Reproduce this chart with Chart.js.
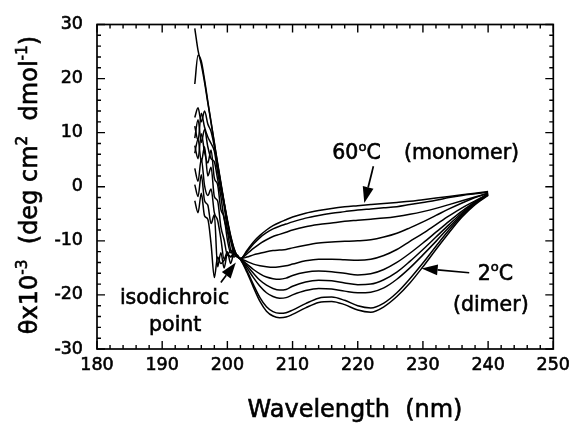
<!DOCTYPE html>
<html>
<head>
<meta charset="utf-8">
<script src="https://cdn.jsdelivr.net/npm/chart.js@4.4.1/dist/chart.umd.min.js"></script>
<style>
  html, body { margin: 0; padding: 0; background: #fff; }
  canvas { display: block; }
</style>
</head>
<body>
<canvas id="cd" width="576" height="426"></canvas>
<script>
// Wavelength grid (nm): 0.5 nm steps through the noisy far-UV region, coarser above
const wavelength = [195, 195.5, 196, 196.5, 197, 197.5, 198, 198.5, 199, 199.5, 200, 200.5, 201, 201.5, 202,
  203, 204, 205, 206, 207, 208, 209, 210,
  212, 214, 216, 218, 220, 222, 224, 226, 228, 230, 232, 234, 236, 238, 240];

// Mean residue ellipticity (x10^-3 deg cm2 dmol-1), from 60 C (monomer) down to 2 C (dimer)
const spectrum1 = [-2.6, -4.8, -1.2, -5.4, -6.0, -10.6, -16.8, -13.0, -14.2, -13.6, -12.6, -12.9, -12.4, -12.8, -13.3,
  -11.8, -10.2, -9.0, -8.0, -7.2, -6.6, -6.1, -5.6,
  -4.9, -4.4, -4.0, -3.7, -3.5, -3.3, -3.1, -2.9, -2.7, -2.4, -2.1, -1.8, -1.5, -1.2, -0.9];
const spectrum2 = [0.4, -1.8, 2.2, -2.6, -3.4, -6.8, -5.2, -14.8, -12.2, -15.0, -12.4, -13.0, -12.5, -12.9, -13.3,
  -12.0, -10.6, -9.4, -8.5, -7.8, -7.3, -6.9, -6.5,
  -5.8, -5.3, -4.9, -4.6, -4.3, -4.1, -3.9, -3.7, -3.3, -2.9, -2.5, -2.0, -1.6, -1.3, -1.0];
const spectrum3 = [3.4, 1.0, 5.2, 0.2, -1.6, -0.4, -4.8, -6.2, -9.6, -13.4, -12.0, -14.2, -12.4, -12.7, -13.3,
  -12.4, -11.4, -10.5, -9.8, -9.2, -8.8, -8.4, -8.0,
  -7.4, -7.0, -6.7, -6.4, -6.2, -6.0, -5.8, -5.5, -5.1, -4.6, -4.0, -3.3, -2.6, -1.9, -1.2];
const spectrum4 = [6.2, 8.8, 4.6, 7.4, 2.0, 3.6, -1.8, -2.6, -7.4, -9.8, -12.6, -11.8, -13.0, -12.6, -13.3,
  -13.0, -12.6, -12.3, -12.0, -11.8, -11.7, -11.6, -11.3,
  -10.8, -10.4, -10.2, -10.1, -10.0, -9.8, -9.3, -8.6, -7.6, -6.5, -5.3, -4.1, -3.0, -2.0, -1.2];
const spectrum5 = [7.6, 5.2, 9.8, 6.4, 4.4, 6.8, 1.6, 0.4, -4.2, -5.6, -9.8, -12.2, -11.8, -12.9, -13.3,
  -13.8, -14.3, -14.6, -14.8, -14.9, -14.8, -14.6, -14.3,
  -13.7, -13.4, -13.4, -13.5, -13.6, -13.4, -12.7, -11.6, -10.1, -8.6, -7.0, -5.4, -3.9, -2.6, -1.3];
const spectrum6 = [9.0, 12.4, 8.2, 10.6, 7.4, 5.2, 4.6, 1.4, -1.8, -6.0, -8.2, -11.6, -12.2, -13.0, -13.3,
  -14.3, -15.3, -16.1, -16.7, -17.0, -17.1, -16.9, -16.4,
  -15.8, -15.6, -15.7, -16.0, -16.3, -16.1, -15.3, -14.0, -12.3, -10.4, -8.4, -6.4, -4.5, -2.8, -1.4];
const spectrum7 = [11.2, 8.6, 13.6, 11.0, 9.2, 8.0, 6.6, 2.8, -0.6, -3.6, -7.8, -10.0, -12.4, -12.9, -13.3,
  -14.6, -16.0, -17.3, -18.2, -18.8, -19.1, -19.0, -18.4,
  -17.6, -17.3, -17.4, -17.8, -18.1, -18.0, -17.2, -15.8, -13.8, -11.6, -9.3, -7.0, -4.8, -2.9, -1.4];
const spectrum8 = [12.8, 14.6, 12.0, 14.0, 11.6, 10.2, 7.4, 4.0, 0.4, -3.0, -6.4, -9.4, -11.6, -12.9, -13.3,
  -15.0, -16.8, -18.4, -19.6, -20.3, -20.6, -20.5, -20.0,
  -19.2, -18.8, -18.9, -19.3, -19.6, -19.5, -18.7, -17.1, -15.0, -12.6, -10.1, -7.5, -5.1, -3.0, -1.5];
const spectrum9 = [19.0, 24.3, 23.2, 19.8, 15.8, 12.0, 8.2, 4.4, 0.8, -2.8, -6.1, -9.0, -11.3, -12.8, -13.4,
  -15.5, -18.1, -20.5, -22.2, -23.1, -23.4, -23.3, -22.8,
  -21.6, -20.6, -20.4, -21.0, -22.0, -22.4, -21.5, -19.6, -17.0, -14.1, -11.0, -8.0, -5.3, -3.1, -1.5];
const spectrum10 = [29.3, 25.2, 22.6, 19.3, 15.5, 11.8, 8.0, 4.2, 0.6, -3.0, -6.3, -9.2, -11.4, -12.8, -13.4,
  -15.8, -18.6, -21.2, -23.0, -23.9, -24.2, -24.1, -23.6,
  -22.4, -21.4, -21.2, -21.8, -22.8, -23.2, -22.2, -20.3, -17.8, -14.8, -11.6, -8.5, -5.6, -3.3, -1.6];

const spectra = [spectrum1, spectrum2, spectrum3, spectrum4, spectrum5,
                 spectrum6, spectrum7, spectrum8, spectrum9, spectrum10];

// Axis ranges and tick spacing
const xRange = [180, 250], xMajor = 10, xMinor = 2;
const yRange = [-30, 30], yMajor = 10, yMinor = 2;

const FONT = '"DejaVu Sans", Verdana, sans-serif';
const INK = '#000';

// Draw a run of text pieces, some of them superscripts
function richWidth(ctx, parts, size) {
  let w = 0;
  for (const p of parts) {
    ctx.font = (p.sup ? size * 0.64 : size) + 'px ' + FONT;
    w += ctx.measureText(p.t).width;
  }
  return w;
}
function drawRich(ctx, parts, x, y, size, align) {
  const w = richWidth(ctx, parts, size);
  let cx = align === 'center' ? x - w / 2 : x;
  ctx.textAlign = 'left';
  ctx.textBaseline = 'alphabetic';
  ctx.lineWidth = 0.6;
  for (const p of parts) {
    const s = p.sup ? size * 0.64 : size;
    ctx.font = s + 'px ' + FONT;
    const ty = p.sup ? y - size * 0.42 : y;
    ctx.strokeText(p.t, cx, ty);
    ctx.fillText(p.t, cx, ty);
    cx += ctx.measureText(p.t).width;
  }
}
function drawArrow(ctx, x0, y0, x1, y1) {
  const ang = Math.atan2(y1 - y0, x1 - x0);
  const len = 16, half = 5.5;
  const bx = x1 - len * Math.cos(ang), by = y1 - len * Math.sin(ang);
  ctx.lineWidth = 1.7;
  ctx.beginPath();
  ctx.moveTo(x0, y0);
  ctx.lineTo(bx, by);
  ctx.stroke();
  ctx.beginPath();
  ctx.moveTo(x1, y1);
  ctx.lineTo(bx + half * Math.sin(ang), by - half * Math.cos(ang));
  ctx.lineTo(bx - half * Math.sin(ang), by + half * Math.cos(ang));
  ctx.closePath();
  ctx.fill();
}

// Labels placed in data units (wavelength, ellipticity)
const notes = [
  { parts: [{ t: '60' }, { t: 'o', sup: true }, { t: 'C' }], at: [216.1, 5.1], align: 'left' },
  { parts: [{ t: '(monomer)' }], at: [227.1, 5.2], align: 'left' },
  { parts: [{ t: '2' }, { t: 'o', sup: true }, { t: 'C' }], at: [238.4, -17.2], align: 'left' },
  { parts: [{ t: '(dimer)' }], at: [234.6, -23.0], align: 'left' },
  { parts: [{ t: 'isodichroic' }], at: [191.9, -21.6], align: 'center' },
  { parts: [{ t: 'point' }], at: [192.0, -26.7], align: 'center' }
];
const arrows = [
  { from: [222.4, 3.8], to: [221.0, -3.0] },
  { from: [237.1, -15.9], to: [229.8, -15.1] },
  { from: [199.0, -17.7], to: [201.3, -14.0] }
];

const framePlugin = {
  id: 'frame',
  afterDatasetsDraw(chart) {
    const { ctx, chartArea: a, scales: { x, y } } = chart;
    ctx.save();
    ctx.strokeStyle = INK;
    ctx.lineWidth = 1.7;
    ctx.strokeRect(a.left, a.top, a.right - a.left, a.bottom - a.top);
    ctx.lineWidth = 1.4;
    ctx.beginPath();
    for (let v = xRange[0]; v <= xRange[1]; v += xMinor) {
      const px = x.getPixelForValue(v);
      const L = v % xMajor === 0 ? 8 : 4;
      ctx.moveTo(px, a.bottom); ctx.lineTo(px, a.bottom - L);
      ctx.moveTo(px, a.top); ctx.lineTo(px, a.top + L);
    }
    for (let v = yRange[0]; v <= yRange[1]; v += yMinor) {
      const py = y.getPixelForValue(v);
      const L = v % yMajor === 0 ? 8 : 4;
      ctx.moveTo(a.left, py); ctx.lineTo(a.left + L, py);
      ctx.moveTo(a.right, py); ctx.lineTo(a.right - L, py);
    }
    ctx.stroke();
    ctx.restore();
  },
  afterDraw(chart) {
    const { ctx, scales: { x, y } } = chart;
    ctx.save();
    ctx.fillStyle = INK;
    ctx.strokeStyle = INK;
    for (const n of notes) {
      drawRich(ctx, n.parts, x.getPixelForValue(n.at[0]), y.getPixelForValue(n.at[1]), 20.5, n.align);
    }
    for (const ar of arrows) {
      drawArrow(ctx, x.getPixelForValue(ar.from[0]), y.getPixelForValue(ar.from[1]),
                x.getPixelForValue(ar.to[0]), y.getPixelForValue(ar.to[1]));
    }
    // axis titles
    drawRich(ctx, [{ t: 'Wavelength  (nm)' }], 355, 417, 24, 'center');
    ctx.translate(37, 185);
    ctx.rotate(-Math.PI / 2);
    drawRich(ctx, [{ t: '\u03b8x10' }, { t: '-3', sup: true }, { t: '  (deg cm' }, { t: '2', sup: true },
                   { t: '  dmol' }, { t: '-1', sup: true }, { t: ')' }], 0, 0, 24, 'center');
    ctx.restore();
  }
};

const tickFont = { family: FONT, size: 17.5 };

new Chart(document.getElementById('cd'), {
  type: 'line',
  data: {
    datasets: spectra.map((s, k) => ({
      label: 'spectrum ' + (k + 1),
      data: wavelength.map((w, i) => ({ x: w, y: s[i] })),
      borderColor: INK,
      borderWidth: 1.5,
      pointRadius: 0,
      fill: false,
      cubicInterpolationMode: 'monotone'
    }))
  },
  options: {
    responsive: false,
    animation: false,
    devicePixelRatio: 1,
    layout: { padding: { left: 0, right: 18, top: 22, bottom: 0 } },
    plugins: { legend: { display: false }, tooltip: { enabled: false } },
    scales: {
      x: {
        type: 'linear', min: xRange[0], max: xRange[1],
        grid: { display: false, drawTicks: false },
        border: { display: false },
        ticks: { stepSize: xMajor, color: INK, padding: 6, maxRotation: 0, font: tickFont,
                 textStrokeColor: INK, textStrokeWidth: 0.6 },
        afterFit(scale) { scale.height = 77; }
      },
      y: {
        type: 'linear', min: yRange[0], max: yRange[1],
        grid: { display: false, drawTicks: false },
        border: { display: false },
        ticks: { stepSize: yMajor, color: INK, padding: 14, font: tickFont,
                 textStrokeColor: INK, textStrokeWidth: 0.6 },
        afterFit(scale) { scale.width = 97; }
      }
    }
  },
  plugins: [framePlugin]
});
</script>
</body>
</html>
